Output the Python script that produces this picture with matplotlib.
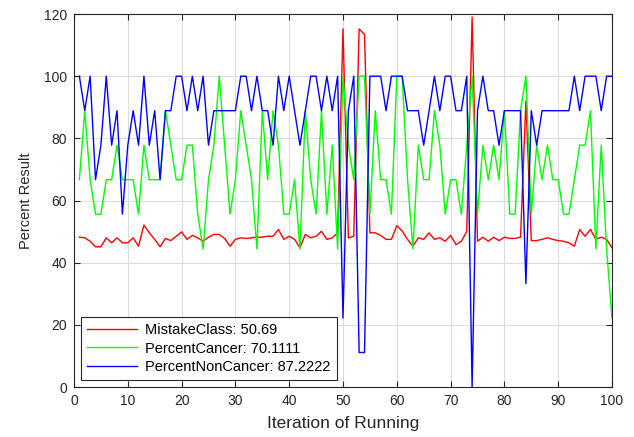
import numpy as np
import matplotlib
matplotlib.use("Agg")
import matplotlib.pyplot as plt

iteration = np.arange(1, 101)

mistake_class = [
    48.2, 48.0, 46.9, 45.1, 45.1, 48.0, 46.4, 48.0, 46.4, 46.4,
    48.0, 45.3, 52.1, 49.6, 47.5, 45.1, 47.8, 47.1, 48.5, 49.9,
    47.5, 48.8, 48.0, 46.9, 48.2, 49.1, 49.1, 47.8, 45.3, 47.5,
    48.0, 47.8, 48.0, 48.2, 48.2, 48.5, 48.5, 50.7, 47.5, 48.5,
    47.5, 44.8, 49.1, 48.0, 48.5, 50.1, 47.5, 48.0, 49.6, 115.2,
    48.0, 48.5, 115.2, 113.4, 49.6, 49.6, 48.8, 47.5, 47.5, 51.9,
    50.2, 47.5, 45.3, 48.0, 47.5, 49.6, 47.5, 48.0, 46.9, 48.8,
    45.8, 46.9, 50.0, 119.0, 46.9, 48.2, 46.9, 48.2, 47.1, 48.2,
    47.8, 47.8, 48.2, 92.0, 47.1, 47.1, 47.5, 48.0, 47.5, 47.1,
    46.9, 46.4, 45.3, 50.7, 48.5, 50.7, 47.5, 48.2, 47.5, 44.8,
]

percent_cancer = [
    66.7, 88.9, 66.7, 55.6, 55.6, 66.7, 66.7, 77.8, 66.7, 66.7,
    66.7, 55.6, 77.8, 66.7, 66.7, 66.7, 88.9, 77.8, 66.7, 66.7,
    77.8, 77.8, 55.6, 44.4, 66.7, 77.8, 100.0, 77.8, 55.6, 66.7,
    88.9, 77.8, 66.7, 44.4, 88.9, 66.7, 88.9, 77.8, 55.6, 55.6,
    66.7, 44.4, 88.9, 66.7, 55.6, 88.9, 55.6, 77.8, 44.4, 100.0,
    77.8, 66.7, 100.0, 100.0, 55.6, 88.9, 66.7, 66.7, 55.6, 100.0,
    100.0, 66.7, 44.4, 77.8, 66.7, 66.7, 88.9, 77.8, 55.6, 66.7,
    66.7, 55.6, 77.8, 100.0, 55.6, 77.8, 66.7, 77.8, 66.7, 88.9,
    55.6, 55.6, 88.9, 100.0, 55.6, 77.8, 66.7, 77.8, 66.7, 66.7,
    55.6, 55.6, 66.7, 77.8, 77.8, 88.9, 44.4, 77.8, 44.4, 22.2,
]

percent_non_cancer = [
    100.0, 88.9, 100.0, 66.7, 77.8, 100.0, 77.8, 88.9, 55.6, 77.8,
    88.9, 77.8, 100.0, 77.8, 88.9, 66.7, 88.9, 88.9, 100.0, 100.0,
    88.9, 100.0, 88.9, 100.0, 77.8, 88.9, 88.9, 88.9, 88.9, 88.9,
    100.0, 100.0, 88.9, 100.0, 88.9, 88.9, 77.8, 100.0, 88.9, 100.0,
    88.9, 77.8, 88.9, 100.0, 100.0, 88.9, 100.0, 88.9, 100.0, 22.2,
    88.9, 100.0, 11.1, 11.1, 100.0, 100.0, 100.0, 88.9, 100.0, 100.0,
    100.0, 88.9, 88.9, 88.9, 77.8, 88.9, 100.0, 88.9, 100.0, 100.0,
    88.9, 88.9, 100.0, 0.0, 88.9, 100.0, 88.9, 88.9, 77.8, 88.9,
    88.9, 88.9, 88.9, 33.3, 88.9, 77.8, 88.9, 88.9, 88.9, 88.9,
    88.9, 88.9, 100.0, 88.9, 100.0, 100.0, 100.0, 88.9, 100.0, 100.0,
]

labels = ["MistakeClass: 50.69", "PercentCancer: 70.1111", "PercentNonCancer: 87.2222"]

plt.rcParams["font.family"] = ["Liberation Sans", "DejaVu Sans"]

fig = plt.figure(figsize=(6.34, 4.37), dpi=100)
ax = fig.add_axes([0.1167, 0.1144, 0.8486, 0.8535])

ax.plot(iteration, mistake_class, color="#ff0000", lw=1.0, label=labels[0])
ax.plot(iteration, percent_cancer, color="#00ff00", lw=1.0, label=labels[1])
ax.plot(iteration, percent_non_cancer, color="#0000ff", lw=1.0, label=labels[2])

ax.set_xlim(0, 100)
ax.set_ylim(0, 120)
ax.set_xticks(np.arange(0, 101, 10))
ax.set_yticks(np.arange(0, 121, 20))
ax.grid(True, color="#dcdcdc", lw=0.8)
ax.set_axisbelow(True)
ax.tick_params(direction="in", length=4, width=0.8, labelsize=10,
               colors="#262626", top=True, right=True, pad=5)
for sp in ax.spines.values():
    sp.set_color("#262626")
    sp.set_linewidth(0.8)

ax.set_xlabel("Iteration of Running", fontsize=12.5, color="#262626", labelpad=6)
ax.set_ylabel("Percent Result", fontsize=10.5, color="#262626", labelpad=8)

leg = ax.legend(loc="lower left", fontsize=10.5, handlelength=3.4,
                fancybox=False, framealpha=1, edgecolor="#262626",
                borderaxespad=0.5, labelspacing=0.3, handletextpad=0.6)
leg.get_frame().set_linewidth(0.8)

fig.savefig("out.png", dpi=100)
